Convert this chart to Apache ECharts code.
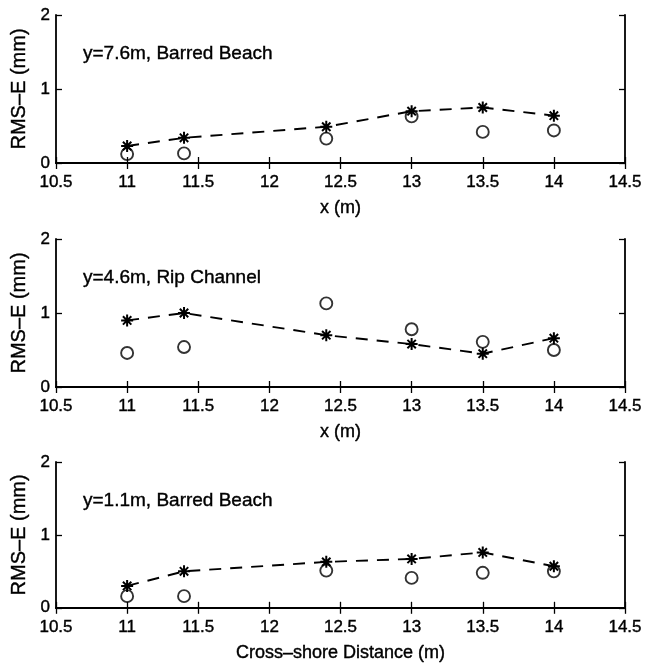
<!DOCTYPE html>
<html>
<head>
<meta charset="utf-8">
<script src="https://cdn.jsdelivr.net/npm/echarts@6/dist/echarts.min.js"></script>
<style>
  html, body { margin: 0; padding: 0; background: #fff; }
  #chart { width: 656px; height: 663px; }
</style>
</head>
<body>
<div id="chart"></div>
<script>
// cross-shore positions (m)
const xPos = [11, 11.4, 12.4, 13, 13.5, 14];

// panel titles
const panelNames = ['y=7.6m, Barred Beach', 'y=4.6m, Rip Channel', 'y=1.1m, Barred Beach'];
const xNames = ['x (m)', 'x (m)', 'Cross–shore Distance (m)'];

// RMS-E (mm), asterisks (dashed) and circles
const starTop = [0.23, 0.34, 0.49, 0.70, 0.75, 0.64];
const circTop = [0.12, 0.13, 0.33, 0.63, 0.42, 0.44];
const starMid = [0.90, 1.00, 0.70, 0.58, 0.45, 0.66];
const circMid = [0.46, 0.54, 1.13, 0.78, 0.61, 0.50];
const starBot = [0.30, 0.50, 0.63, 0.67, 0.76, 0.57];
const circBot = [0.16, 0.16, 0.51, 0.41, 0.48, 0.50];

const stars = [starTop, starMid, starBot];
const circles = [circTop, circMid, circBot];

const FONT = '"Liberation Sans", Arial, Helvetica, sans-serif';
const asterisk = 'path://M5,0L5,10M0,5L10,5M1.5,1.5L8.5,8.5M1.5,8.5L8.5,1.5';

// slightly heavier text, like the scanned figure
const txt = (size) => ({
    color: '#000', fontSize: size, fontFamily: FONT,
    textBorderColor: '#000', textBorderWidth: 0.4
});

const gridTops = [15, 239, 462];
const gridH = 148;

let chart = echarts.init(document.getElementById('chart'));

let grids = [], xAxes = [], yAxes = [], series = [], titles = [];

gridTops.forEach((top, i) => {
    grids.push({ left: 56, right: 31, top: top, height: gridH });

    // bottom axis with labels
    xAxes.push({
        type: 'value', gridIndex: i, position: 'bottom',
        min: 10.5, max: 14.5, interval: 0.5,
        name: xNames[i], nameLocation: 'middle', nameGap: 36,
        nameTextStyle: txt(18),
        axisLine: { lineStyle: { color: '#000', width: 1.8 } },
        axisTick: { inside: true, length: 6, lineStyle: { color: '#000', width: 1.3 } },
        axisLabel: Object.assign(txt(17), { margin: 11 }),
        splitLine: { show: false }
    });
    // top mirror axis
    xAxes.push({
        type: 'value', gridIndex: i, position: 'top',
        min: 10.5, max: 14.5, interval: 0.5,
        axisLine: { lineStyle: { color: '#000', width: 1.8 } },
        axisTick: { inside: true, length: 6, lineStyle: { color: '#000', width: 1.3 } },
        axisLabel: { show: false },
        splitLine: { show: false }
    });

    yAxes.push({
        type: 'value', gridIndex: i, position: 'left',
        min: 0, max: 2, interval: 1,
        name: 'RMS–E (mm)', nameLocation: 'middle', nameGap: 24, nameRotate: 90,
        nameTextStyle: txt(20),
        axisLine: { show: true, lineStyle: { color: '#000', width: 1.8 } },
        axisTick: { show: true, inside: true, length: 6, lineStyle: { color: '#000', width: 1.3 } },
        axisLabel: Object.assign(txt(17), { margin: 6 }),
        splitLine: { show: false }
    });
    yAxes.push({
        type: 'value', gridIndex: i, position: 'right',
        min: 0, max: 2, interval: 1,
        axisLine: { show: true, lineStyle: { color: '#000', width: 1.8 } },
        axisTick: { show: true, inside: true, length: 6, lineStyle: { color: '#000', width: 1.3 } },
        axisLabel: { show: false },
        splitLine: { show: false }
    });

    series.push({
        type: 'line',
        xAxisIndex: i * 2, yAxisIndex: i * 2,
        data: xPos.map((x, k) => [x, stars[i][k]]),
        symbol: asterisk, symbolSize: 12,
        itemStyle: { color: 'transparent', borderColor: '#000', borderWidth: 2 },
        lineStyle: { color: '#000', width: 1.9, type: [12, 9] },
        showAllSymbol: true,
        animation: false,
        z: 3
    });
    series.push({
        type: 'scatter',
        xAxisIndex: i * 2, yAxisIndex: i * 2,
        data: xPos.map((x, k) => [x, circles[i][k]]),
        symbol: 'circle', symbolSize: 12,
        itemStyle: { color: 'transparent', borderColor: '#000', borderWidth: 1.9 },
        animation: false,
        z: 2
    });

    titles.push({
        text: panelNames[i],
        left: 83, top: top + 29,
        padding: 0,
        textStyle: Object.assign(txt(19), { fontWeight: 'normal' })
    });
});

chart.setOption({
    backgroundColor: '#fff',
    animation: false,
    title: titles,
    grid: grids,
    xAxis: xAxes,
    yAxis: yAxes,
    series: series
});
</script>
</body>
</html>
